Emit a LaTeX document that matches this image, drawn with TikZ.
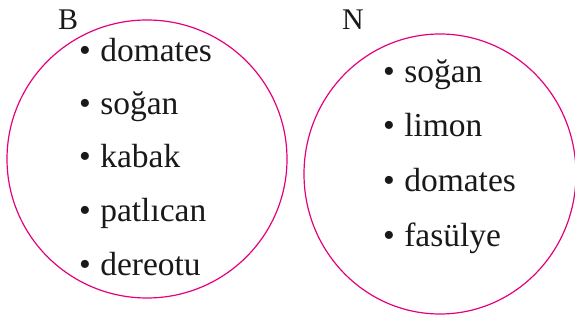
\documentclass[tikz,border=0pt]{standalone}
\usepackage{fontspec}
\setmainfont{Liberation Serif}
\definecolor{setpink}{HTML}{E6007E}
\begin{document}
\begin{tikzpicture}[x=1pt,y=-1pt,
  setline/.style={draw=setpink,line width=1.2pt},
  item/.style={anchor=base west,inner sep=0pt,font=\fontsize{33.5}{33.5}\selectfont,text=black!90},
  setname/.style={anchor=base west,inner sep=0pt,font=\fontsize{30}{30}\selectfont,text=black!90}]
\useasboundingbox (0,0) rectangle (575,320);
% the two sets
\draw[setline] (147,159) ellipse [x radius=140, y radius=139];
\draw[setline] (440,174) ellipse [x radius=136, y radius=140];
% set names
\node[setname] (B) at (58,30) {B};
\node[setname] (N) at (342,30) {N};
% elements of B
\node[item] (b1) at (79,62) {•\hspace{0.28em}domates};
\node[item] (b2) at (79,115) {•\hspace{0.28em}soğan};
\node[item] (b3) at (79,168) {•\hspace{0.28em}kabak};
\node[item] (b4) at (79,222) {•\hspace{0.28em}patlıcan};
\node[item] (b5) at (79,275) {•\hspace{0.28em}dereotu};
% elements of N
\node[item] (n1) at (383,83) {•\hspace{0.28em}soğan};
\node[item] (n2) at (383,137) {•\hspace{0.28em}limon};
\node[item] (n3) at (383,192) {•\hspace{0.28em}domates};
\node[item] (n4) at (383,247) {•\hspace{0.28em}fasülye};
\end{tikzpicture}
\end{document}
